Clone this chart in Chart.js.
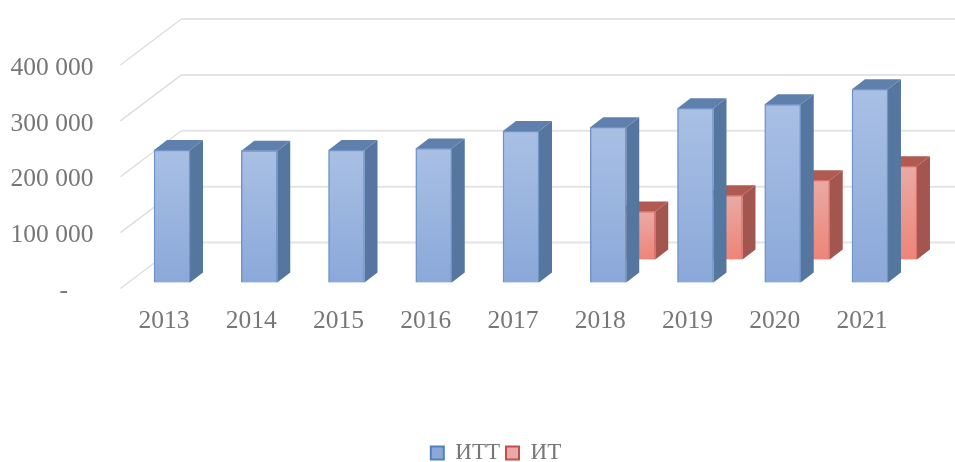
<!DOCTYPE html>
<html>
<head>
<meta charset="utf-8">
<style>
  html, body { margin: 0; padding: 0; background: #ffffff; }
  canvas { display: block; }
</style>
<script src="https://cdn.jsdelivr.net/npm/chart.js@4/dist/chart.umd.min.js"></script>
</head>
<body>
<canvas id="myBarGraph" width="955" height="462"></canvas>
<script>
var years = ["2013", "2014", "2015", "2016", "2017", "2018", "2019", "2020", "2021"];
var ittValues = [237000, 236000, 237000, 240000, 271000, 278000, 312000, 319000, 346000];
var itValues = [null, null, null, null, null, 86000, 115000, 142000, 167000];

var fontName = "'Liberation Serif', serif";
var textColor = "#777777";

// how far each row of bars sits behind the front plane
var rowShift = [{ x: 8, y: -6 }, { x: 37, y: -29 }];
var barDepth = { x: 13, y: -10 };
var wallDepth = { x: 61, y: -46 };

var faces = [
  { top: "#a9c0e4", bottom: "#8aa8d9", border: "#7094c8", side: "#54769f", lid: "#5f80ad", key: "#4f81bd" },
  { top: "#e9aaa5", bottom: "#ee8478", border: "#d8726b", side: "#a3564f", lid: "#b05a52", key: "#c0504d" }
];

function frontFill(context) {
  var face = faces[context.datasetIndex];
  var chart = context.chart;
  if (context.raw == null || !chart.scales.y) return face.top;
  var from = chart.scales.y.getPixelForValue(context.raw);
  var to = chart.scales.y.getPixelForValue(0);
  if (!isFinite(from) || !isFinite(to)) return face.top;
  var g = chart.ctx.createLinearGradient(0, from, 0, to);
  g.addColorStop(0, face.top);
  g.addColorStop(1, face.bottom);
  return g;
}

function polygon(ctx, points, fill) {
  ctx.beginPath();
  ctx.moveTo(points[0][0], points[0][1]);
  for (var i = 1; i < points.length; i++) ctx.lineTo(points[i][0], points[i][1]);
  ctx.closePath();
  ctx.fillStyle = fill;
  ctx.fill();
}

var walls = {
  id: "walls",
  // the legend is off centre and sits close to the bottom edge
  afterLayout: function (chart) {
    chart.legend.left += 43.2;
    chart.legend.right += 43.2;
    chart.legend.top += 12.5;
    chart.legend.bottom += 12.5;
  },
  beforeDatasetsDraw: function (chart) {
    var ctx = chart.ctx;
    var left = chart.chartArea.left;
    ctx.save();
    chart.scales.y.ticks.forEach(function (tick) {
      var y = chart.scales.y.getPixelForValue(tick.value);
      ctx.strokeStyle = "#dedede";
      ctx.lineWidth = 1.5;
      ctx.beginPath();
      ctx.moveTo(left, y);
      ctx.lineTo(left + wallDepth.x, y + wallDepth.y);
      ctx.stroke();
      ctx.strokeStyle = "#e4e4e4";
      ctx.lineWidth = 2;
      ctx.beginPath();
      ctx.moveTo(left + wallDepth.x, y + wallDepth.y);
      ctx.lineTo(chart.width, y + wallDepth.y);
      ctx.stroke();
    });
    ctx.restore();
  }
};

var bars3d = {
  id: "bars3d",
  beforeDatasetDraw: function (chart, args) {
    var ctx = chart.ctx;
    var shift = rowShift[args.index];
    var face = faces[args.index];
    var values = chart.data.datasets[args.index].data;
    ctx.save();
    ctx.translate(shift.x, shift.y);
    args.meta.data.forEach(function (bar, i) {
      if (values[i] == null) return;
      var p = bar.getProps(["x", "y", "base", "width"], true);
      var l = p.x - p.width / 2;
      var r = p.x + p.width / 2;
      polygon(ctx, [[r, p.y], [r + barDepth.x, p.y + barDepth.y], [r + barDepth.x, p.base + barDepth.y], [r, p.base]], face.side);
      polygon(ctx, [[l, p.y], [l + barDepth.x, p.y + barDepth.y], [r + barDepth.x, p.y + barDepth.y], [r, p.y]], face.lid);
    });
  },
  afterDatasetDraw: function (chart) {
    chart.ctx.restore();
  }
};

var myBarGraph = new Chart(document.getElementById("myBarGraph").getContext("2d"), {
  type: "bar",
  data: {
    labels: years,
    datasets: [
      {
        label: "ИТТ",
        data: ittValues,
        backgroundColor: frontFill,
        borderColor: faces[0].border,
        borderWidth: 1.5,
        barThickness: 36,
        grouped: false,
        clip: false
      },
      {
        label: "ИТ",
        data: itValues,
        backgroundColor: frontFill,
        borderColor: faces[1].border,
        borderWidth: 1.5,
        barThickness: 36,
        grouped: false,
        clip: false
      }
    ]
  },
  plugins: [walls, bars3d],
  options: {
    responsive: false,
    animation: false,
    layout: {
      autoPadding: false,
      padding: { top: 65, left: 0, right: 49.4, bottom: 0 }
    },
    scales: {
      x: {
        afterFit: function (scale) { scale.height = 134.5; },
        grid: { display: false, drawTicks: false },
        border: { display: false },
        ticks: {
          color: textColor,
          padding: 17,
          maxRotation: 0,
          font: { family: fontName, size: 25.5 }
        }
      },
      y: {
        min: 0,
        max: 400000,
        afterFit: function (scale) { scale.width = 120.4; },
        grid: { display: false, drawTicks: false },
        border: { display: false },
        ticks: {
          stepSize: 100000,
          color: textColor,
          padding: 27,
          labelOffset: 3,
          font: { family: fontName, size: 25.5 },
          callback: function (value) {
            if (value === 0) return "-    ";
            return String(value).replace(/\B(?=(\d{3})+$)/g, " ");
          }
        }
      }
    },
    plugins: {
      tooltip: { enabled: false },
      legend: {
        display: true,
        position: "bottom",
        labels: {
          boxWidth: 13,
          boxHeight: 13,
          padding: 6,
          color: textColor,
          font: { family: fontName, size: 23 },
          generateLabels: function (chart) {
            var items = Chart.defaults.plugins.legend.labels.generateLabels(chart);
            items.forEach(function (item, i) {
              item.strokeStyle = faces[i].key;
              item.lineWidth = 2;
            });
            return items;
          }
        }
      }
    }
  }
});
</script>
</body>
</html>
